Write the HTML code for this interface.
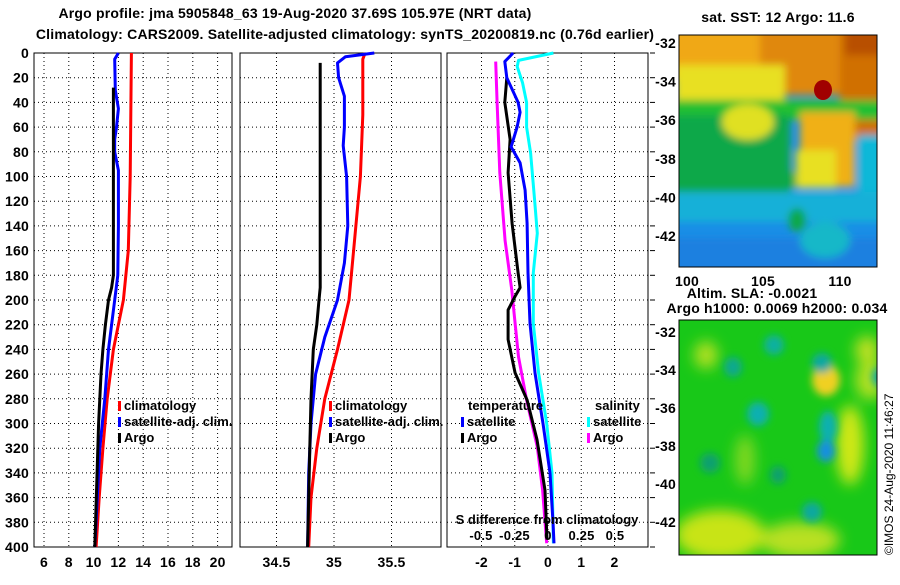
<!DOCTYPE html>
<html><head><meta charset="utf-8"><style>
body{margin:0;background:#fff;width:900px;height:580px;overflow:hidden}
svg text{font-family:"Liberation Sans",sans-serif;font-weight:bold;font-size:14px;letter-spacing:0.2px;fill:#000}
</style></head><body>
<svg id="c" width="900" height="580" xmlns="http://www.w3.org/2000/svg">
<defs>
<filter id="bl" x="-20%" y="-20%" width="140%" height="140%"><feGaussianBlur stdDeviation="7"/></filter>
<filter id="bl2" x="-20%" y="-20%" width="140%" height="140%"><feGaussianBlur stdDeviation="4"/></filter>
<clipPath id="m1"><rect x="679" y="35" width="198" height="232"/></clipPath>
<clipPath id="m2"><rect x="679" y="320" width="198" height="235"/></clipPath>
</defs>
<text x="295" y="18" text-anchor="middle">Argo profile: jma 5905848_63 19-Aug-2020 37.69S 105.97E (NRT data)</text>
<text x="345" y="39" text-anchor="middle">Climatology: CARS2009. Satellite-adjusted climatology: synTS_20200819.nc (0.76d earlier)</text>
<g id="plots"></g>
<!-- SST map -->
<g clip-path="url(#m1)">
<rect x="679" y="35" width="198" height="232" fill="#1a8ee6"/>
<g filter="url(#bl2)">
<rect x="670" y="20" width="220" height="60" fill="#f0a818"/>
<rect x="760" y="20" width="130" height="75" fill="#e08808"/>
<rect x="840" y="20" width="50" height="120" fill="#d07000"/>
<rect x="845" y="25" width="40" height="30" fill="#b85000"/>
<rect x="675" y="65" width="110" height="40" fill="#e8e020"/>
<rect x="670" y="100" width="220" height="20" fill="#20c030"/>
<rect x="670" y="115" width="120" height="80" fill="#10a848"/>
<ellipse cx="748" cy="122" rx="26" ry="18" fill="#e0e020"/>
<rect x="800" y="112" width="55" height="75" fill="#f0b018"/>
<rect x="796" y="150" width="40" height="38" fill="#e8e020"/>
<rect x="858" y="135" width="30" height="70" fill="#10b8d8"/>
<rect x="670" y="192" width="220" height="30" fill="#18b0d8"/>
<ellipse cx="777" cy="180" rx="20" ry="12" fill="#10a848"/>
<ellipse cx="797" cy="220" rx="9" ry="12" fill="#10a848"/>
<rect x="670" y="238" width="220" height="40" fill="#1a80e0"/>
<ellipse cx="825" cy="240" rx="25" ry="18" fill="#18b8c8"/>
</g>
<ellipse cx="823" cy="90" rx="9" ry="10" fill="#a00000"/>
</g>
<rect x="679" y="35" width="198" height="232" fill="none" stroke="#000"/>
<text x="778" y="22" text-anchor="middle">sat. SST: 12 Argo: 11.6</text>
<g id="mapaxes"></g>
<text x="687" y="286" text-anchor="middle">100</text>
<text x="763" y="286" text-anchor="middle">105</text>
<text x="840" y="286" text-anchor="middle">110</text>
<text x="752" y="298" text-anchor="middle">Altim. SLA: -0.0021</text>
<text x="777" y="313" text-anchor="middle">Argo h1000: 0.0069 h2000: 0.034</text>
<!-- SLA map -->
<g clip-path="url(#m2)">
<rect x="679" y="320" width="198" height="235" fill="#18c818"/>
<g filter="url(#bl)">
<ellipse cx="706" cy="355" rx="12" ry="14" fill="#b0e020"/>
<ellipse cx="867" cy="350" rx="12" ry="14" fill="#c0e020"/>
<ellipse cx="850" cy="445" rx="14" ry="40" fill="#d0e818"/>
<ellipse cx="720" cy="535" rx="45" ry="25" fill="#c8e418"/>
<ellipse cx="800" cy="540" rx="40" ry="18" fill="#b8e020"/>
<ellipse cx="870" cy="380" rx="15" ry="20" fill="#b0e020"/>
<ellipse cx="745" cy="460" rx="10" ry="25" fill="#80d820"/>
</g>
<g filter="url(#bl2)">
<ellipse cx="826" cy="380" rx="14" ry="16" fill="#f0d020"/>
<ellipse cx="774" cy="345" rx="10" ry="10" fill="#10b0a0"/>
<ellipse cx="733" cy="367" rx="9" ry="10" fill="#10a890"/>
<ellipse cx="822" cy="363" rx="10" ry="10" fill="#10a8a0"/>
<ellipse cx="882" cy="377" rx="10" ry="10" fill="#10a8a0"/>
<ellipse cx="758" cy="414" rx="11" ry="12" fill="#10b0b0"/>
<ellipse cx="828" cy="427" rx="9" ry="16" fill="#10b0b0"/>
<ellipse cx="826" cy="451" rx="9" ry="11" fill="#1890e0"/>
<ellipse cx="710" cy="463" rx="10" ry="10" fill="#10a070"/>
<ellipse cx="778" cy="475" rx="8" ry="9" fill="#10a070"/>
<ellipse cx="812" cy="512" rx="10" ry="10" fill="#10a8a0"/>
</g>
</g>
<rect x="679" y="320" width="198" height="235" fill="none" stroke="#000"/>
<text transform="translate(893,555) rotate(-90)" style="font-weight:normal;font-size:12px;letter-spacing:0">©IMOS 24-Aug-2020 11:46:27</text>
</svg>
<script>
// depth levels (m) and series per panel
const tDep=[0,5,30,45,60,70,80,95,140,180,200,240,280,320,400];
const tSat=[12,11.7,11.75,12.0,11.85,11.7,11.7,12.0,12.0,11.95,11.7,11.2,10.9,10.5,10.1];
const cDep=[0,50,100,160,200,240,280,320,360,400];
const tClim=[13.05,13.0,12.95,12.8,12.4,11.6,11.1,10.75,10.45,10.2];
const aDep=[28,60,100,180,190,200,220,240,260,300,350,400];
const tArgo=[11.6,11.6,11.6,11.6,11.45,11.2,10.95,10.75,10.6,10.4,10.25,10.1];
const sDep=[0,3,8,20,35,60,75,100,140,170,200,230,260,300,340,400];
const sSat=[35.35,35.1,35.03,35.04,35.09,35.09,35.08,35.11,35.12,35.09,35.03,34.92,34.84,34.8,34.78,34.77];
const sClimDep=[0,5,50,100,160,200,240,280,320,360,400];
const sClim=[35.27,35.25,35.25,35.23,35.17,35.13,35.03,34.92,34.85,34.8,34.78];
const saDep=[8,100,190,200,220,240,280,320,400];
const sArgo=[34.88,34.88,34.88,34.87,34.85,34.82,34.8,34.79,34.77];
// difference panel
const dtsDep=[0,7,20,40,48,60,76,89,111,138,178,219,259,300,340,380,397];
const dTSat=[-1.05,-1.3,-1.24,-0.9,-0.84,-0.93,-1.11,-0.84,-0.69,-0.63,-0.6,-0.54,-0.39,-0.15,0.06,0.15,0.18];
const dssDep=[0,6,11,24,40,60,81,119,146,178,219,259,300,340,397];
const dSSat=[0.04,-0.22,-0.23,-0.19,-0.16,-0.16,-0.13,-0.1,-0.08,-0.11,-0.11,-0.07,-0.01,0.03,0.04];
const dtaDep=[20,40,70,97,138,178,190,197,208,232,259,281,313,354,394];
const dTArgo=[-1.24,-1.3,-1.14,-1.2,-1.08,-0.9,-0.84,-0.99,-1.2,-1.2,-0.99,-0.63,-0.33,-0.09,-0.03];
const dsaDep=[7,40,97,152,192,214,246,281,319,354,397];
const dSArgo=[-0.39,-0.38,-0.36,-0.32,-0.27,-0.25,-0.22,-0.16,-0.08,-0.04,-0.01];
const depthTicks=[0,20,40,60,80,100,120,140,160,180,200,220,240,260,280,300,320,340,360,380,400];
const tTicks=[6,8,10,12,14,16,18,20];
const sTicks=[34.5,35,35.5];
const dTicks=[-2,-1,0,1,2];
const sdTicks=[-0.5,-0.25,0,0.25,0.5];
const latTicks=[-32,-34,-36,-38,-40,-42];

const NS='http://www.w3.org/2000/svg';
const root=document.getElementById('plots');
function mk(tag,at,par){const e=document.createElementNS(NS,tag);for(const k in at)e.setAttribute(k,at[k]);(par||root).appendChild(e);return e;}
const Y=d=>53+d*1.235;
const xT=v=>44+(v-6)*12.4;
const xS=v=>334+(v-35)*115;
const xD=v=>548+v*33.25;
const xSD=v=>548+v*134;
const panels=[{x:34,w:198,name:'temperature-panel'},{x:240,w:201,name:'salinity-panel'},{x:447,w:201,name:'difference-panel'}];
panels.forEach((p,i)=>{
  const g=mk('g',{});
  
  
  depthTicks.forEach(d=>{const l=mk('line',{x1:p.x,x2:p.x+p.w,y1:Y(d),y2:Y(d),stroke:'#000','stroke-dasharray':'1,3'},g);
    
    });
  const ticks=i==0?tTicks:i==1?sTicks:dTicks, fx=i==0?xT:i==1?xS:xD;
  ticks.forEach(t=>{const l=mk('line',{x1:fx(t),x2:fx(t),y1:53,y2:547,stroke:'#000','stroke-dasharray':'1,3'},g);
    
    
    const tx=mk('text',{x:fx(t),y:567,'text-anchor':'middle'},g);tx.textContent=(i==2&&t<0)?'-'+Math.abs(t):String(t);
    
    });
  const r=mk('rect',{x:p.x,y:53,width:p.w,height:494,fill:'none',stroke:'#000'},g);
  
  
});
depthTicks.forEach(d=>{const t=mk('text',{x:29,y:Y(d)+5,'text-anchor':'end'});t.textContent=d;
  
  
  const k=mk('line',{x1:650,x2:655,y1:Y(d),y2:Y(d),stroke:'#000'});
  
  });
function line(deps,vals,fx,col,name){
  const pts=deps.map((d,i)=>fx(vals[i]).toFixed(1)+','+Y(d).toFixed(1)).join(' ');
  const l=mk('polyline',{points:pts,fill:'none',stroke:col,'stroke-width':3,'stroke-linejoin':'round'});
  
  
}
line(cDep,tClim,xT,'#f00','temp-climatology-line');
line(tDep,tSat,xT,'#00f','temp-satellite-line');
line(aDep,tArgo,xT,'#000','temp-argo-line');
line(sClimDep,sClim,xS,'#f00','sal-climatology-line');
line(sDep,sSat,xS,'#00f','sal-satellite-line');
line(saDep,sArgo,xS,'#000','sal-argo-line');
line(dssDep,dSSat,xSD,'#0ff','sdiff-satellite-line');
line(dsaDep,dSArgo,xSD,'#f0f','sdiff-argo-line');
line(dtaDep,dTArgo,xD,'#000','tdiff-argo-line');
line(dtsDep,dTSat,xD,'#00f','tdiff-satellite-line');
function leg(x,y,col,txt){
  if(col){const m=mk('rect',{x:x,y:y-9,width:3,height:10,fill:col});
    
    }
  const t=mk('text',{x:col?x+6:x,y:y,style:'font-size:13px;letter-spacing:0'});t.textContent=txt;
  
  
}
leg(118,410,'#f00','climatology');leg(118,426,'#00f','satellite-adj. clim.');leg(118,442,'#000','Argo');
leg(329,410,'#f00','climatology');leg(329,426,'#00f','satellite-adj. clim.');leg(329,442,'#000','Argo');
leg(468,410,null,'temperature');leg(461,426,'#00f','satellite');leg(461,442,'#000','Argo');
leg(595,410,null,'salinity');leg(587,426,'#0ff','satellite');leg(587,442,'#f0f','Argo');
const st=mk('text',{x:547,y:524,'text-anchor':'middle',style:'font-size:13px;letter-spacing:0'});st.textContent='S difference from climatology';


sdTicks.forEach(v=>{const t=mk('text',{x:xSD(v),y:540,'text-anchor':'middle',style:'font-size:13px'});t.textContent=String(v);
  
  });
const ma=document.getElementById('mapaxes');
latTicks.forEach((v,i)=>{
  const y1=43+i*38.6, y2=332+i*38;
  [y1,y2].forEach(y=>{const t=mk('text',{x:676,y:y+5,'text-anchor':'end'},ma);t.textContent=v;
    
    });
});
</script>
</body></html>
